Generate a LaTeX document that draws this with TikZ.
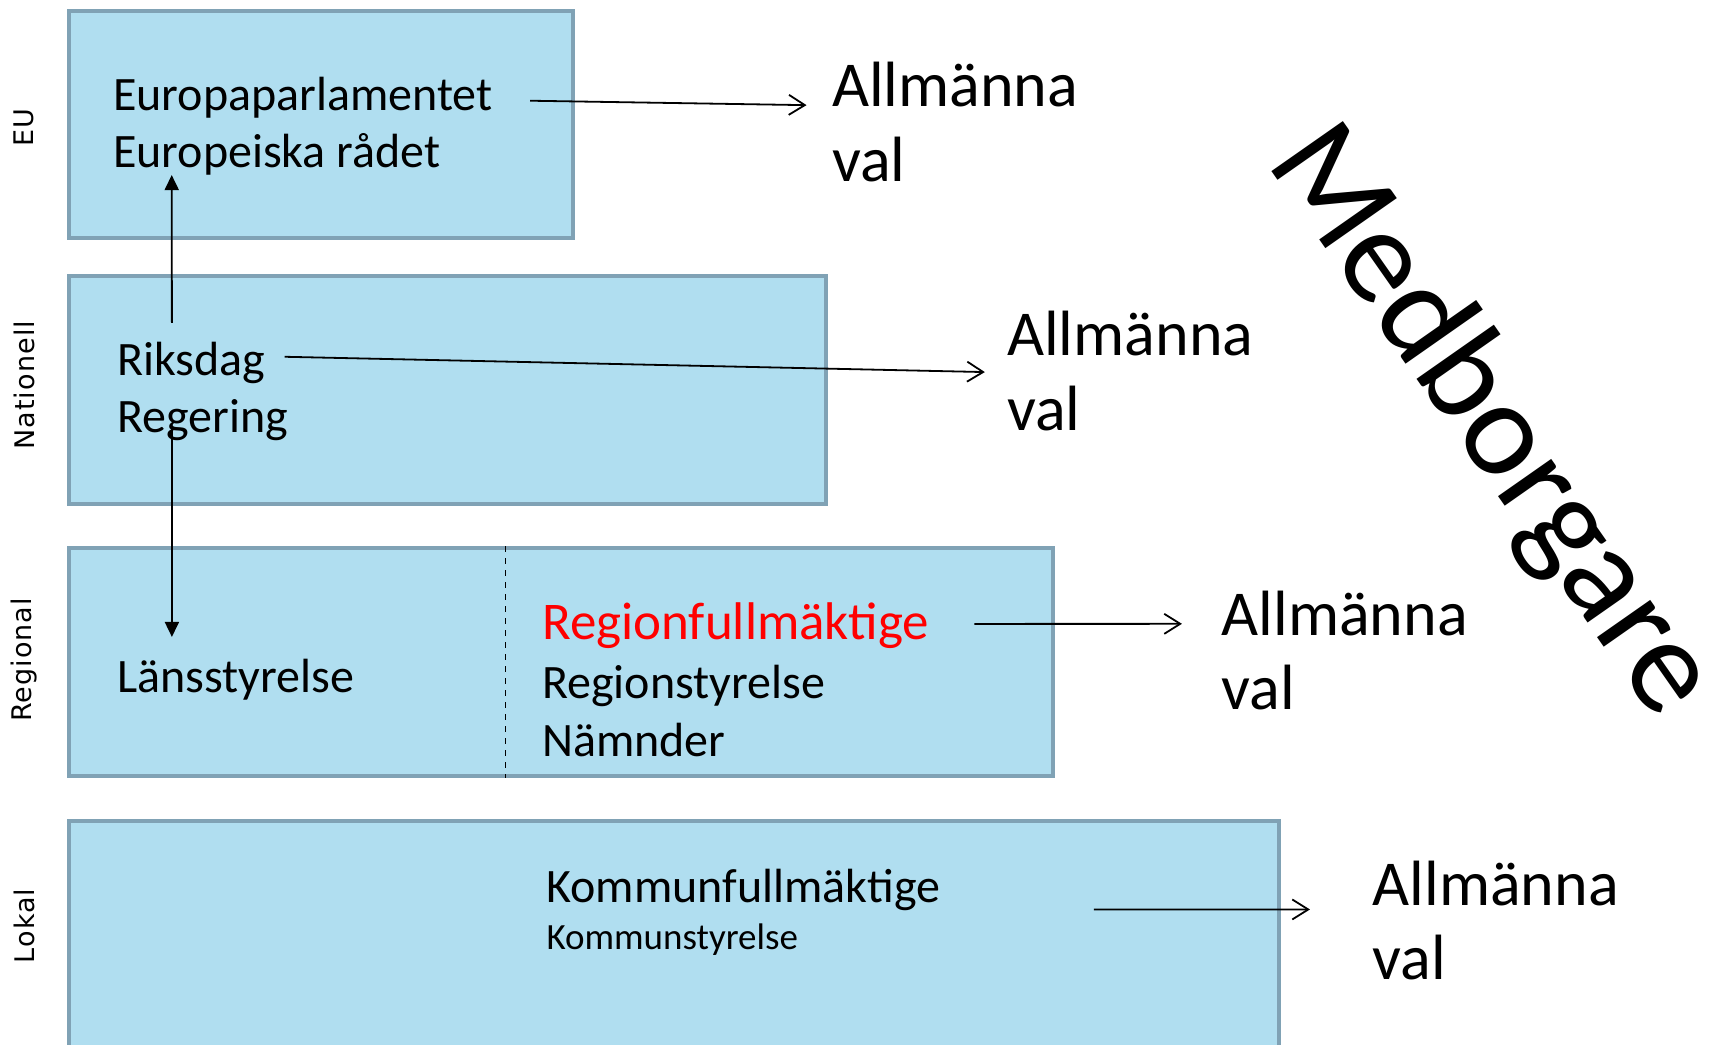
\documentclass[tikz,border=0pt]{standalone}
\usepackage{fontspec}
\setmainfont{Carlito}
\newfontfamily\sidefont[LetterSpace=4]{DejaVu Sans}
\usetikzlibrary{arrows,arrows.meta,positioning}
\definecolor{boxfill}{RGB}{176,222,240}
\definecolor{boxline}{RGB}{128,162,181}
\definecolor{regred}{RGB}{255,0,0}

\begin{document}
\begin{tikzpicture}[x=0.5472pt,y=-0.5472pt]
        \tikzstyle{levelbox}=[rectangle, draw=boxline, fill=boxfill, line width=2pt, anchor=north west, inner sep=0pt]
        \tikzstyle{organ}=[anchor=base west, inner sep=0pt, font=\fontsize{24}{28}\selectfont]
        \tikzstyle{side}=[rotate=90, inner sep=0pt, font=\sidefont\fontsize{13.5}{16}\selectfont]
        \tikzstyle{valtext}=[anchor=base west, inner sep=0pt, font=\fontsize{32}{38}\selectfont]
        \tikzstyle{election}=[-{Straight Barb[length=8pt,width=10pt]}, line width=0.9pt]
        \tikzstyle{appoint}=[-{Triangle[length=7.5pt,width=7pt]}, line width=0.9pt]
        \useasboundingbox (0,0) rectangle (1568,954);
        % levels
        \node[levelbox, minimum width=252.3pt, minimum height=113.8pt] (eu) at (61,8) {};
        \node[levelbox, minimum width=378.7pt, minimum height=114.4pt] (nat) at (61,250) {};
        \node[levelbox, minimum width=491.9pt, minimum height=113.8pt] (reg) at (61,499) {};
        \node[levelbox, minimum width=605.2pt, minimum height=118pt] (lok) at (61,748) {};
        \draw[dashed, line width=0.6pt] ([xshift=219.4pt]reg.north west) -- ([xshift=219.4pt]reg.south west);
        \node[side] (seu) at (22,117) {EU};
        \node[side] (snat) at (22,352) {Nationell};
        \node[side] (sreg) at (22,603) {Regional};
        \node[side] (slok) at (22,846) {Lokal};
        % organs
        \node[organ] (ep) at (103,101) {Europaparlamentet};
        \node[organ] (er) at (103,153) {Europeiska rådet};
        \node[organ] (riks) at (107,343) {Riksdag};
        \node[organ] (rege) at (107,395) {Regering};
        \node[organ] (lans) at (107,633) {Länsstyrelse};
        \node[organ, text=regred, font=\fontsize{26.5}{30}\selectfont] (rfm) at (495,584) {Regionfullmäktige};
        \node[organ] (rst) at (495,638) {Regionstyrelse};
        \node[organ] (nmd) at (495,691) {Nämnder};
        \node[organ] (kfm) at (499,825) {Kommunfullmäktige};
        \node[organ, font=\fontsize{18.5}{22}\selectfont] (kst) at (499,868) {Kommunstyrelse};
        % elections
        \node[valtext] (allm1) at (760,97) {Allmänna};
        \node[valtext] (val1) at (760,166) {val};
        \node[valtext] (allm2) at (920,325) {Allmänna};
        \node[valtext] (val2) at (920,393) {val};
        \node[valtext] (allm3) at (1116,581) {Allmänna};
        \node[valtext] (val3) at (1116,648) {val};
        \node[valtext] (allm4) at (1254,827) {Allmänna};
        \node[valtext] (val4) at (1254,895) {val};
        \node[rotate=-55, font=\fontsize{68}{78}\selectfont] (medb) at (1362,386) {Medborgare};
        \draw[election] ([xshift=18.6pt,yshift=4.9pt]ep.base east) -- ([xshift=-12.6pt,yshift=0.5pt]allm1.base west);
        \draw[election] ([xshift=9.3pt,yshift=9.3pt]riks.base east) -- ([xshift=-11pt,yshift=-8.2pt]allm2.base west);
        \draw[election] ([xshift=22.4pt,yshift=7.6pt]rfm.base east) -- ([xshift=-19.7pt,yshift=6pt]allm3.base west);
        \draw[election] ([xshift=76.6pt,yshift=-3.3pt]kfm.base east) -- ([xshift=-31.2pt,yshift=-2.2pt]allm4.base west);
        \draw[appoint] ([xshift=27.4pt,yshift=26.3pt]riks.base west) -- ([xshift=29.5pt,yshift=-3.8pt]er.base west);
        \draw[appoint] ([xshift=27.4pt,yshift=1.6pt]rege.base west) -- ([xshift=27.4pt,yshift=27.9pt]lans.base west);
      \end{tikzpicture}
\end{document}
